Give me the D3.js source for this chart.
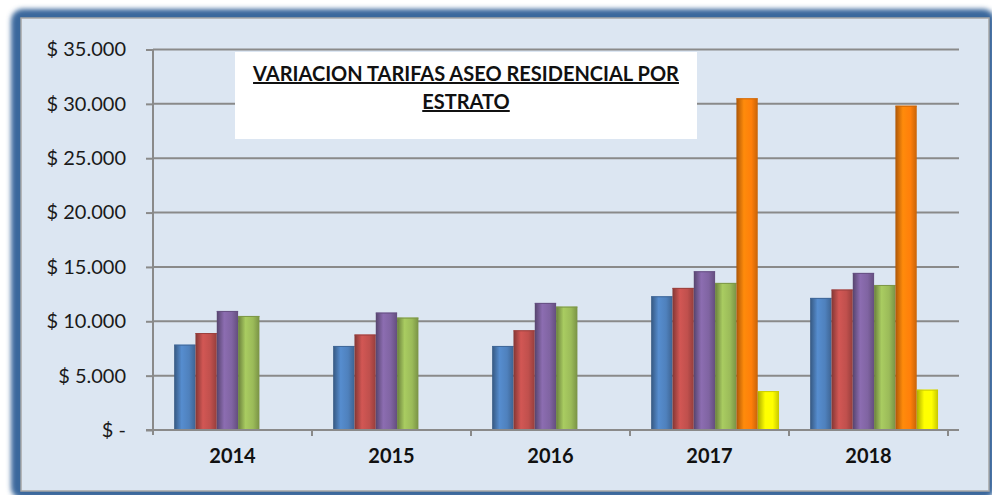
<!DOCTYPE html>
<html>
<head>
<meta charset="utf-8">
<script src="https://cdn.jsdelivr.net/npm/d3@7"></script>
<style>
  body { margin: 0; background: #fff; }
  svg text { font-family: Lato, "Open Sans", sans-serif; }
</style>
</head>
<body>
<div id="chart"></div>
<script>
// Data
const years = ['2014', '2015', '2016', '2017', '2018']
const seriesNames = ['Estrato 1', 'Estrato 2', 'Estrato 3', 'Estrato 4', 'Estrato 5', 'Estrato 6']
const estrato1 = [7850, 7730, 7730, 12300, 12150]
const estrato2 = [8920, 8780, 9170, 13070, 12920]
const estrato3 = [10950, 10800, 11690, 14600, 14450]
const estrato4 = [10490, 10340, 11350, 13530, 13340]
const estrato5 = [null, null, null, 30510, 29830]
const estrato6 = [null, null, null, 3580, 3710]
const yTicks = [0, 5000, 10000, 15000, 20000, 25000, 30000, 35000]
const titleLines = ['VARIACION TARIFAS ASEO RESIDENCIAL POR', 'ESTRATO']

const seriesValues = [estrato1, estrato2, estrato3, estrato4, estrato5, estrato6]
const colors = ['#4F81BD', '#C0504D', '#8064A2', '#9BBB59', '#FF7F0A', '#FFFF00']

// canvas
const width = 992,
  height = 495,
  plotLeft = 153,
  plotRight = 948,
  gridRight = 959,
  plotTop = 49.5,
  plotBottom = 430,
  depth = 5.6

let svg = d3.select('#chart')
  .append('svg')
  .attr('width', width)
  .attr('height', height)

let defs = svg.append('defs')

// soft glow for the blue frame
let blur = defs.append('filter').attr('id', 'glow')
  .attr('x', '-5%').attr('y', '-5%').attr('width', '110%').attr('height', '110%')
blur.append('feGaussianBlur').attr('stdDeviation', 2.5)

// cylinder-ish shading for each series
colors.forEach((c, i) => {
  let g = defs.append('linearGradient').attr('id', 'grad' + i)
    .attr('x1', '0%').attr('x2', '100%').attr('y1', '0%').attr('y2', '0%')
  let base = d3.color(c)
  g.append('stop').attr('offset', '0%').attr('stop-color', base.darker(1.1))
  g.append('stop').attr('offset', '35%').attr('stop-color', base.brighter(0.25))
  g.append('stop').attr('offset', '70%').attr('stop-color', base)
  g.append('stop').attr('offset', '100%').attr('stop-color', base.darker(0.7))
})

// frame
svg.append('rect')
  .attr('x', 11).attr('y', 9)
  .attr('width', 984).attr('height', 490)
  .attr('rx', 12)
  .attr('fill', '#3A679C')
  .attr('filter', 'url(#glow)')

svg.append('rect')
  .attr('x', 21).attr('y', 18)
  .attr('width', 968).attr('height', 473)
  .attr('fill', '#DCE6F2')
  .attr('stroke', '#A6A6A6')
  .attr('stroke-width', 1.5)

// scales
let xScale = d3.scaleBand()
  .domain(years)
  .range([plotLeft, plotRight])
  .padding(0)

let xInner = d3.scaleBand()
  .domain(d3.range(seriesNames.length))
  .range([0, xScale.bandwidth()])
  .paddingInner(0)
  .paddingOuter(0.73)

let yScale = d3.scaleLinear()
  .domain([0, 35000])
  .range([plotBottom, plotTop])

let fmt = d => d === 0 ? '$ -' : '$ ' + d3.format(',')(d).replace(/,/g, '.')

// gridlines
svg.append('g')
  .selectAll('line')
  .data(yTicks)
  .enter()
  .append('line')
  .attr('x1', plotLeft)
  .attr('x2', gridRight)
  .attr('y1', d => yScale(d))
  .attr('y2', d => yScale(d))
  .attr('stroke', '#8A8A8A')
  .attr('stroke-width', 2)

// y axis
let y_axis = d3.axisLeft(yScale)
  .tickValues(yTicks)
  .tickFormat(fmt)
  .tickSize(7)
  .tickPadding(20)

let yg = svg.append('g')
  .attr('transform', `translate(${plotLeft})`)
  .call(y_axis)
yg.select('.domain').attr('stroke', '#8A8A8A').attr('stroke-width', 2)
  .attr('d', `M0,${plotTop}V${plotBottom + 5}`)
yg.selectAll('.tick line').attr('stroke', '#8A8A8A').attr('stroke-width', 2)
yg.selectAll('.tick text')
  .attr('font-size', 20)
  .attr('fill', '#1a1a1a')
  .attr('font-family', 'Lato, sans-serif')

// bars
let groups = svg.append('g')
  .selectAll('g')
  .data(seriesValues)
  .enter()
  .append('g')
  .attr('fill', (d, i) => `url(#grad${i})`)

groups.each(function (vals, si) {
  d3.select(this)
    .selectAll('rect')
    .data(vals.map((v, yi) => ({ v: v, year: years[yi] })).filter(d => d.v !== null))
    .enter()
    .append('rect')
    .attr('x', d => xScale(d.year) + xInner(si) + depth)
    .attr('y', d => yScale(d.v))
    .attr('width', xInner.bandwidth())
    .attr('height', d => yScale(0) - yScale(d.v))
})

// bar tops, a slightly darker cap
groups.each(function (vals, si) {
  d3.select(this)
    .selectAll('line.cap')
    .data(vals.map((v, yi) => ({ v: v, year: years[yi] })).filter(d => d.v !== null))
    .enter()
    .append('line')
    .attr('class', 'cap')
    .attr('x1', d => xScale(d.year) + xInner(si) + depth)
    .attr('x2', d => xScale(d.year) + xInner(si) + depth + xInner.bandwidth())
    .attr('y1', d => yScale(d.v) + 0.5)
    .attr('y2', d => yScale(d.v) + 0.5)
    .attr('stroke', d3.color(colors[si]).darker(0.6))
    .attr('stroke-width', 1)
})

// x axis
let x_axis = d3.axisBottom(xScale)
  .tickSize(0)
  .tickPadding(19)

let xg = svg.append('g')
  .attr('transform', `translate(0, ${plotBottom})`)
  .call(x_axis)
xg.select('.domain').attr('stroke', '#8A8A8A').attr('stroke-width', 2)
  .attr('d', `M${plotLeft - 7},0H${gridRight}`)
xg.selectAll('.tick text')
  .attr('font-size', 20)
  .attr('font-weight', 'bold')
  .attr('fill', '#111')
  .attr('font-family', 'Lato, sans-serif')

// category separators
svg.append('g')
  .selectAll('line')
  .data(years.slice(1).concat(['end']))
  .enter()
  .append('line')
  .attr('x1', d => d === 'end' ? plotRight : xScale(d))
  .attr('x2', d => d === 'end' ? plotRight : xScale(d))
  .attr('y1', plotBottom)
  .attr('y2', plotBottom + 6)
  .attr('stroke', '#8A8A8A')
  .attr('stroke-width', 2)

// title box
svg.append('rect')
  .attr('x', 235).attr('y', 52)
  .attr('width', 462).attr('height', 87)
  .attr('fill', '#fff')

svg.append('g')
  .selectAll('text')
  .data(titleLines)
  .enter()
  .append('text')
  .attr('x', 466)
  .attr('y', (d, i) => 81 + i * 28)
  .attr('text-anchor', 'middle')
  .attr('font-size', 20)
  .attr('font-weight', 'bold')
  .attr('text-decoration', 'underline')
  .attr('fill', '#111')
  .text(d => d)
</script>
</body>
</html>
